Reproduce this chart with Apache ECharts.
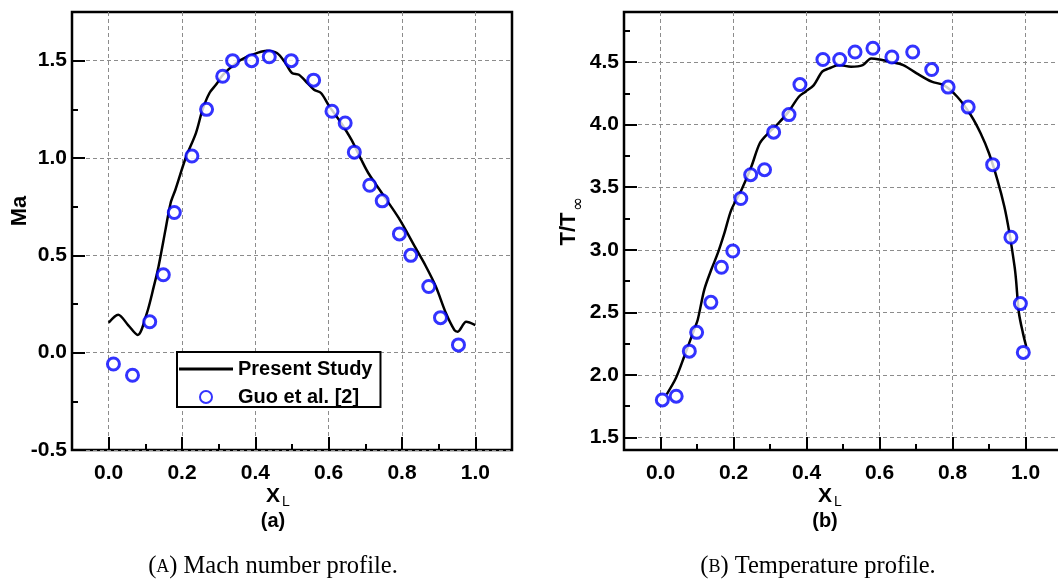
<!DOCTYPE html>
<html>
<head>
<meta charset="utf-8">
<script src="https://cdn.jsdelivr.net/npm/echarts@6.0.0/dist/echarts.min.js"></script>
<style>
html, body { margin: 0; padding: 0; background: #fff; }
#profiles { width: 1058px; height: 583px; }
</style>
</head>
<body>
<div id="profiles"></div>
<script>
// (a) Mach number, present study (line) and Guo et al. (circles)
var machLineX = [0.000, 0.026, 0.053, 0.079, 0.104, 0.123, 0.136, 0.155, 0.169, 0.182, 0.210, 0.238, 0.256, 0.275, 0.293, 0.312, 0.348, 0.376, 0.404, 0.431, 0.459, 0.482, 0.500, 0.519, 0.542, 0.560, 0.579, 0.602, 0.634, 0.662, 0.689, 0.708, 0.745, 0.791, 0.837, 0.865, 0.892, 0.920, 0.943, 0.952, 0.975, 1.000];
var machLineY = [0.154, 0.195, 0.142, 0.091, 0.202, 0.339, 0.443, 0.632, 0.769, 0.837, 1.000, 1.128, 1.248, 1.334, 1.377, 1.428, 1.488, 1.519, 1.539, 1.551, 1.539, 1.488, 1.437, 1.428, 1.385, 1.351, 1.334, 1.265, 1.180, 1.094, 0.991, 0.923, 0.820, 0.692, 0.538, 0.444, 0.341, 0.202, 0.116, 0.108, 0.159, 0.142];
var machGuoX = [0.013, 0.065, 0.112, 0.149, 0.179, 0.227, 0.267, 0.311, 0.338, 0.390, 0.438, 0.498, 0.559, 0.609, 0.645, 0.670, 0.712, 0.746, 0.793, 0.824, 0.873, 0.905, 0.954];
var machGuoY = [-0.058, -0.116, 0.159, 0.40, 0.72, 1.01, 1.25, 1.42, 1.50, 1.50, 1.52, 1.50, 1.40, 1.24, 1.18, 1.03, 0.86, 0.78, 0.61, 0.50, 0.34, 0.18, 0.04];

// (b) temperature ratio
var tempLineX = [0.017, 0.042, 0.065, 0.092, 0.102, 0.120, 0.139, 0.157, 0.175, 0.194, 0.222, 0.249, 0.272, 0.295, 0.323, 0.351, 0.379, 0.397, 0.420, 0.443, 0.462, 0.489, 0.522, 0.554, 0.577, 0.600, 0.628, 0.665, 0.702, 0.743, 0.776, 0.813, 0.850, 0.877, 0.900, 0.923, 0.942, 0.956, 0.970, 0.974, 0.982, 0.993, 1.002];
var tempLineY = [1.845, 1.973, 2.147, 2.361, 2.441, 2.682, 2.840, 2.973, 3.133, 3.319, 3.479, 3.665, 3.851, 3.931, 4.011, 4.104, 4.223, 4.263, 4.316, 4.423, 4.449, 4.476, 4.463, 4.476, 4.529, 4.521, 4.503, 4.476, 4.410, 4.343, 4.316, 4.223, 4.077, 3.931, 3.771, 3.559, 3.346, 3.133, 2.867, 2.762, 2.495, 2.334, 2.227];
var tempGuoX = [0.005, 0.043, 0.079, 0.099, 0.138, 0.167, 0.198, 0.220, 0.247, 0.285, 0.310, 0.352, 0.382, 0.445, 0.491, 0.533, 0.582, 0.634, 0.691, 0.743, 0.788, 0.843, 0.910, 0.960, 0.986, 0.994];
var tempGuoY = [1.80, 1.83, 2.19, 2.34, 2.58, 2.86, 2.99, 3.41, 3.60, 3.64, 3.94, 4.08, 4.32, 4.52, 4.52, 4.58, 4.61, 4.54, 4.58, 4.44, 4.30, 4.14, 3.68, 3.10, 2.57, 2.18];

// tick values
var xTicks = [0, 0.2, 0.4, 0.6, 0.8, 1.0];
var xMinorTicks = [0.1, 0.3, 0.5, 0.7, 0.9];
var machTicks = [-0.5, 0, 0.5, 1.0, 1.5];
var machMinorTicks = [-0.25, 0.25, 0.75, 1.25];
var tempTicks = [1.5, 2.0, 2.5, 3.0, 3.5, 4.0, 4.5];
var tempMinorTicks = [1.75, 2.25, 2.75, 3.25, 3.75, 4.25, 4.75];

var SANS = '"Liberation Sans", Arial, sans-serif';
var SERIF = '"Liberation Serif", "Times New Roman", serif';

function zip(xs, ys) {
  return xs.map(function (x, i) { return [x, ys[i]]; });
}

// major axis: long inside ticks, labels, dashed grid lines
function majorAxis(grid, min, max, step, ticks, isY) {
  return {
    type: 'value', gridIndex: grid, min: min, max: max, interval: step,
    position: isY ? 'left' : 'bottom', offset: 0,
    axisLine: { show: false, onZero: false },
    axisTick: { show: true, inside: true, length: 13, customValues: ticks, lineStyle: { color: '#000', width: 2 } },
    axisLabel: {
      customValues: ticks, margin: isY ? 5 : 13, color: '#000',
      fontSize: 21, fontWeight: 'bold', fontFamily: SANS,
      formatter: function (v) { return v.toFixed(1); }
    },
    splitLine: { show: true, lineStyle: { color: '#8c8c8c', width: 1, type: [4, 3] } }
  };
}

// minor axis: short inside ticks only
function minorAxis(grid, min, max, step, ticks, isY) {
  return {
    type: 'value', gridIndex: grid, min: min, max: max, interval: step,
    position: isY ? 'left' : 'bottom', offset: 0,
    axisLine: { show: false, onZero: false },
    axisTick: { show: true, inside: true, length: 6, customValues: ticks, lineStyle: { color: '#000', width: 2 } },
    axisLabel: { show: false },
    splitLine: { show: false }
  };
}

function txt(x, y, text, font, rot) {
  return {
    type: 'text', x: x, y: y, rotation: rot || 0, silent: true,
    style: { text: text, font: font, fill: '#000', align: 'center', verticalAlign: 'middle' }
  };
}

var myChart = echarts.init(document.getElementById('profiles'));

var lineStyle = { color: '#000', width: 2.5 };
var circleStyle = { color: '#fff', borderColor: '#0000ff', borderWidth: 3 };

var option = {
  animation: false,
  backgroundColor: '#fff',
  grid: [
    { left: 72, top: 12, width: 440, height: 438, show: true, borderColor: '#000', borderWidth: 2.5, outerBoundsMode: 'none', containLabel: false },
    { left: 624, top: 12, width: 438, height: 438, show: true, borderColor: '#000', borderWidth: 2.5, outerBoundsMode: 'none', containLabel: false }
  ],
  xAxis: [
    majorAxis(0, -0.1, 1.1, 0.1, xTicks, false),
    minorAxis(0, -0.1, 1.1, 0.1, xMinorTicks, false),
    majorAxis(1, -0.1, 1.1, 0.1, xTicks, false),
    minorAxis(1, -0.1, 1.1, 0.1, xMinorTicks, false)
  ],
  yAxis: [
    majorAxis(0, -0.5, 1.75, 0.25, machTicks, true),
    minorAxis(0, -0.5, 1.75, 0.25, machMinorTicks, true),
    majorAxis(1, 1.4, 4.9, 0.1, tempTicks, true),
    minorAxis(1, 1.4, 4.9, 0.1, tempMinorTicks, true)
  ],
  legend: {
    left: 177, top: 352, orient: 'vertical',
    data: [
      { name: 'Present Study', icon: 'path://M0,0L54,0L54,3L0,3Z' },
      { name: 'Guo et al. [2]' }
    ],
    itemWidth: 54, itemHeight: 12, itemGap: 8,
    padding: [7, 8, 0, 2],
    backgroundColor: '#fff', borderColor: '#000', borderWidth: 2,
    selectedMode: false,
    textStyle: { fontSize: 20, fontWeight: 'bold', color: '#000', fontFamily: SANS }
  },
  series: [
    {
      name: 'Present Study', type: 'line', xAxisIndex: 0, yAxisIndex: 0,
      data: zip(machLineX, machLineY), symbol: 'none', smooth: 0.3,
      lineStyle: lineStyle, itemStyle: { color: '#000' }, z: 3
    },
    {
      name: 'Guo et al. [2]', type: 'scatter', xAxisIndex: 0, yAxisIndex: 0,
      data: zip(machGuoX, machGuoY), symbol: 'circle', symbolSize: 12,
      itemStyle: circleStyle, z: 4
    },
    {
      name: 'Present Study', type: 'line', xAxisIndex: 2, yAxisIndex: 2,
      data: zip(tempLineX, tempLineY), symbol: 'none', smooth: 0.3,
      lineStyle: lineStyle, itemStyle: { color: '#000' }, z: 3
    },
    {
      name: 'Guo et al. [2]', type: 'scatter', xAxisIndex: 2, yAxisIndex: 2,
      data: zip(tempGuoX, tempGuoY), symbol: 'circle', symbolSize: 12,
      itemStyle: circleStyle, z: 4
    }
  ],
  graphic: [
    txt(20, 211, 'Ma', 'bold 22px ' + SANS, Math.PI / 2),
    txt(569, 229, 'T/T', 'bold 22px ' + SANS, Math.PI / 2),
    txt(579, 204, '∞', '17px "DejaVu Sans", sans-serif', Math.PI / 2),
    txt(273, 496, 'X', 'bold 21px ' + SANS),
    txt(286, 502, 'L', '14px ' + SANS),
    txt(825, 496, 'X', 'bold 21px ' + SANS),
    txt(838, 502, 'L', '14px ' + SANS),
    txt(273, 521, '(a)', 'bold 20px ' + SANS),
    txt(825, 521, '(b)', 'bold 20px ' + SANS),
    {
      type: 'text', x: 273, y: 567, silent: true,
      style: {
        text: '({sc|A}) Mach number profile.', font: '24.5px ' + SERIF, fill: '#000',
        align: 'center', verticalAlign: 'middle',
        rich: { sc: { font: '18px ' + SERIF, fill: '#000' } }
      }
    },
    {
      type: 'text', x: 818, y: 567, silent: true,
      style: {
        text: '({sc|B}) Temperature profile.', font: '24.5px ' + SERIF, fill: '#000',
        align: 'center', verticalAlign: 'middle',
        rich: { sc: { font: '18px ' + SERIF, fill: '#000' } }
      }
    }
  ]
};

myChart.setOption(option);
</script>
</body>
</html>
